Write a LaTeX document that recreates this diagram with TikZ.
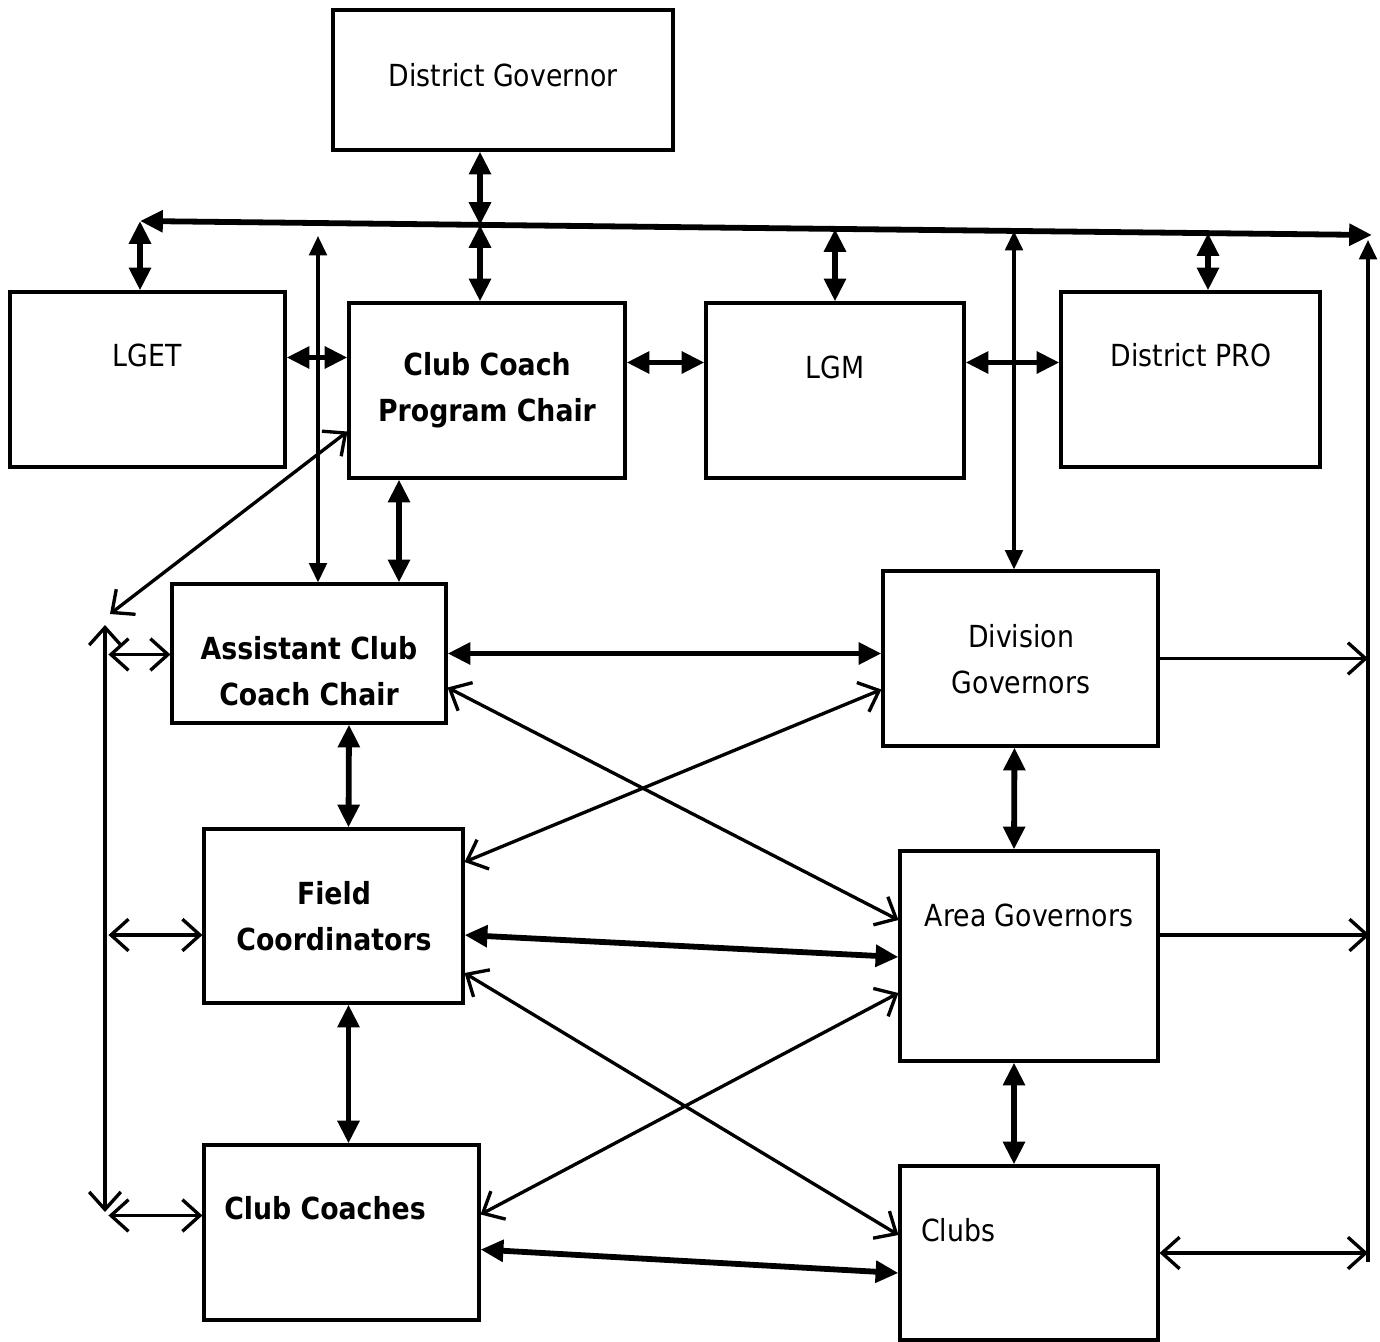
\documentclass[tikz,border=0pt]{standalone}
\usepackage{fontspec}
\setmainfont{DejaVu Sans}[FakeStretch=0.88]
\usetikzlibrary{arrows.meta,calc}

\begin{document}
\begin{tikzpicture}[x=0.02cm,y=-0.02cm,
  bx/.style={draw,line width=1.8pt,inner sep=0pt},
  lab/.style={font=\fontsize{17.3}{26}\selectfont,align=center,inner sep=0pt},
  blab/.style={lab,font=\fontsize{17.3}{26}\selectfont\bfseries},
  thk/.style={line width=3.3pt,<->,>={Triangle[length=13pt,width=12pt]}},
  thf/.style={line width=1.9pt,<->,>={Triangle[length=11pt,width=10pt]}},
  thn/.style={line width=1.9pt,<->,>={Straight Barb[length=10pt,width=18pt]}},
  one/.style={thn,->}]
  \useasboundingbox (0,0) rectangle (1380,1342);
  % boxes
  \node[bx,minimum width=6.8cm,minimum height=2.8cm] (dg) at (503,80) {};
  \node[bx,minimum width=5.5cm,minimum height=3.5cm] (lget) at (147.5,379.5) {};
  \node[bx,minimum width=5.52cm,minimum height=3.5cm] (ccpc) at (487,390.5) {};
  \node[bx,minimum width=5.16cm,minimum height=3.5cm] (lgm) at (835,390.5) {};
  \node[bx,minimum width=5.18cm,minimum height=3.5cm] (dpro) at (1190.5,379.5) {};
  \node[bx,minimum width=5.48cm,minimum height=2.78cm] (acc) at (309,653.5) {};
  \node[bx,minimum width=5.5cm,minimum height=3.5cm] (divg) at (1020.5,658.5) {};
  \node[bx,minimum width=5.18cm,minimum height=3.48cm] (fc) at (333.5,916) {};
  \node[bx,minimum width=5.16cm,minimum height=4.2cm] (areag) at (1029,956) {};
  \node[bx,minimum width=5.5cm,minimum height=3.5cm] (cc) at (341.5,1232.5) {};
  \node[bx,minimum width=5.16cm,minimum height=3.48cm] (clubs) at (1029,1253) {};
  % texts
  \node[lab] (dg-t) at (503,75) {District Governor};
  \node[lab] (lget-t) at (147,355) {LGET};
  \node[blab] (ccpc-t) at (487,390) {Club Coach\\Program Chair};
  \node[lab] (lgm-t) at (835,367) {LGM};
  \node[lab] (dpro-t) at (1191,355) {District PRO};
  \node[blab] (acc-t) at (309,671) {Assistant Club\\Coach Chair};
  \node[lab] (divg-t) at (1021,659) {Division\\Governors};
  \node[blab] (fc-t) at (334,916) {Field\\Coordinators};
  \node[lab] (areag-t) at (1029,915) {Area Governors};
  \node[blab] (cc-t) at (325,1208) {Club Coaches};
  \node[lab] (clubs-t) at (958,1230) {Clubs};
  % bus under the governor
  \coordinate (busL) at (140,221); \coordinate (busR) at (1372,235);
  \coordinate (b1) at (480,225); \coordinate (b2) at (835,229);
  \coordinate (b3) at (1014,231); \coordinate (b4) at (1208,233);
  \draw[thk] (busL) -- (busR);
  \draw[thk] (b1 |- dg.south) -- (b1);
  \draw[thk] (b1) -- (b1 |- ccpc.north);
  \draw[thk] (busL) -- (busL |- lget.north);
  \draw[thk] (b2) -- (b2 |- lgm.north);
  \draw[thk] (b4) -- (b4 |- dpro.north);
  \draw[thf] (b3) -- (b3 |- divg.north);
  \coordinate (up) at (318,236);
  \draw[thf] (up) -- (up |- acc.north);
  % return line on the right
  \coordinate (rvT) at (1368,240); \coordinate (rvB) at (1368,1262);
  \draw[thf,->] (rvB) -- (rvT);
  % thick links
  \draw[thk] ($(lget.east)+(0,-22)$) -- ($(ccpc.west)+(0,-33)$);
  \draw[thk] ($(ccpc.east)+(0,-28)$) -- ($(lgm.west)+(0,-28)$);
  \draw[thk] ($(lgm.east)+(0,-28)$) -- ($(dpro.west)+(0,-17)$);
  \draw[thk] ($(ccpc.south)+(-88,0)$) -- ($(acc.north)+(90,0)$);
  \draw[thk] (acc.east) -- (acc.east -| divg.west);
  \draw[thk] ($(acc.south)+(40,0)$) -- ($(fc.north)+(15,0)$);
  \draw[thk] ($(fc.south)+(15,0)$) -- ($(cc.north)+(7,0)$);
  \draw[thk] ($(divg.south)+(-6,0)$) -- ($(areag.north)+(-15,0)$);
  \draw[thk] ($(areag.south)+(-15,0)$) -- ($(clubs.north)+(-15,0)$);
  \draw[thk] ($(fc.east)+(0,19)$) -- ($(areag.west)+(0,1)$);
  \draw[thk] ($(cc.east)+(0,17)$) -- ($(clubs.west)+(0,20)$);
  % thin crossings
  \draw[thn] ($(acc.east)+(0,34)$) -- ($(areag.west)+(0,-36)$);
  \draw[thn] ($(fc.east)+(0,-54)$) -- ($(divg.west)+(0,31)$);
  \draw[thn] ($(fc.east)+(0,57)$) -- ($(clubs.west)+(0,-18)$);
  \draw[thn] ($(cc.east)+(0,-18)$) -- ($(areag.west)+(0,37)$);
  \coordinate (dl) at (110,614);
  \draw[thn] ($(ccpc.west)+(0,41)$) -- (dl);
  % return line on the left
  \coordinate (lvT) at (105,625); \coordinate (lvB) at (105,1212);
  \draw[thn] (lvT) -- (lvB);
  \draw[thn] ($(acc.west)+(-62,1)$) -- ($(acc.west)+(0,1)$);
  \draw[thn] ($(fc.west)+(-94,19)$) -- ($(fc.west)+(0,19)$);
  \draw[thn] ($(cc.west)+(-94,-17)$) -- ($(cc.west)+(0,-17)$);
  % to the right return line
  \draw[one] (divg.east) -- (divg.east -| rvT);
  \draw[one] ($(areag.east)+(0,-21)$) -- ($(areag.east)+(210,-21)$);
  \draw[thn] (clubs.east) -- (clubs.east -| rvT);
\end{tikzpicture}
\end{document}
